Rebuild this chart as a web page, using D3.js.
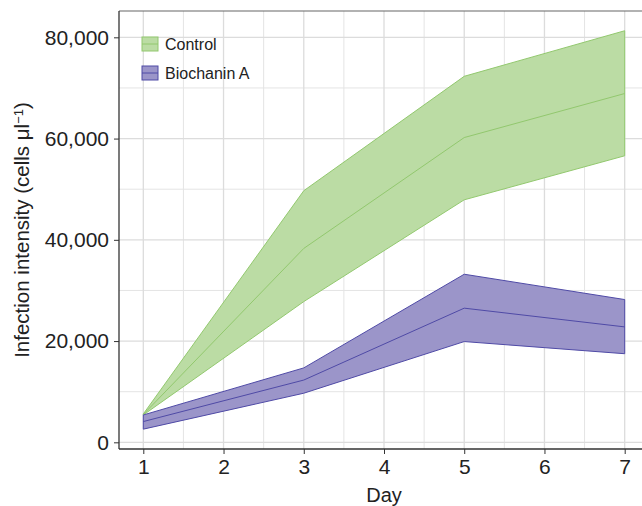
<!DOCTYPE html>
<html>
<head>
<meta charset="utf-8">
<script src="https://cdn.jsdelivr.net/npm/d3@7"></script>
<style>
  body { margin: 0; background: #fff; }
  svg { font-family: "Liberation Sans", Arial, sans-serif; }
</style>
</head>
<body>
<div id="chart"></div>
<script>
// values
const days = [1, 3, 5, 7];
const controlMean  = [5500, 38300, 60200, 68900];
const controlLower = [5400, 27800, 47900, 56600];
const controlUpper = [5600, 49700, 72300, 81300];
const bioMean  = [4100, 12300, 26500, 22800];
const bioLower = [2600, 9700, 19900, 17500];
const bioUpper = [5400, 14700, 33200, 28200];
const xTicks = [1, 2, 3, 4, 5, 6, 7];
const yTicks = [0, 20000, 40000, 60000, 80000];
const seriesNames = ["Control", "Biochanin A"];

const W = 642, H = 506;
const margin = { top: 11, right: -7, bottom: 57, left: 119 };
const iw = W - margin.left - margin.right;
const ih = H - margin.top - margin.bottom;

const svg = d3.select("#chart").append("svg")
  .attr("width", W).attr("height", H);

const g = svg.append("g")
  .attr("transform", `translate(${margin.left},${margin.top})`);

const x = d3.scaleLinear().domain([0.697, 7.303]).range([0, iw]);
const y = d3.scaleLinear().domain([-1320, 85200]).range([ih, 0]);

// grid (minor then major)
const minorX = d3.range(1.5, 7.5, 1);
const minorY = [10000, 30000, 50000, 70000];
g.append("g").selectAll("line").data(minorX).join("line")
  .attr("x1", d => x(d)).attr("x2", d => x(d)).attr("y1", 0).attr("y2", ih)
  .attr("stroke", "#e4e4e4").attr("stroke-width", 1);
g.append("g").selectAll("line").data(minorY).join("line")
  .attr("y1", d => y(d)).attr("y2", d => y(d)).attr("x1", 0).attr("x2", iw)
  .attr("stroke", "#e4e4e4").attr("stroke-width", 1);
g.append("g").selectAll("line").data(xTicks).join("line")
  .attr("x1", d => x(d)).attr("x2", d => x(d)).attr("y1", 0).attr("y2", ih)
  .attr("stroke", "#dcdcdc").attr("stroke-width", 1.3);
g.append("g").selectAll("line").data(yTicks).join("line")
  .attr("y1", d => y(d)).attr("y2", d => y(d)).attr("x1", 0).attr("x2", iw)
  .attr("stroke", "#dcdcdc").attr("stroke-width", 1.3);

// bands + mean lines
const groups = [
  { name: seriesNames[0], mean: controlMean, lo: controlLower, hi: controlUpper, fill: "#bbdca4", stroke: "#92c86e" },
  { name: seriesNames[1], mean: bioMean, lo: bioLower, hi: bioUpper, fill: "#9b95c9", stroke: "#4f4aa6" }
];

const area = d3.area()
  .x((d, i) => x(days[i]))
  .y0(d => y(d[0]))
  .y1(d => y(d[1]));
const line = d3.line().x((d, i) => x(days[i])).y(d => y(d));

groups.forEach(s => {
  const pts = days.map((_, i) => [s.lo[i], s.hi[i]]);
  g.append("path").datum(pts)
    .attr("d", d => area(d) + "Z")
    .attr("fill", s.fill)
    .attr("stroke", s.stroke).attr("stroke-width", 1);
  g.append("path").datum(s.mean)
    .attr("d", line)
    .attr("fill", "none")
    .attr("stroke", s.stroke).attr("stroke-width", 1);
});

// panel border: grey top, darker left/bottom
g.append("line").attr("x1", 0).attr("x2", iw).attr("y1", 0).attr("y2", 0)
  .attr("stroke", "#666").attr("stroke-width", 1.2);
g.append("line").attr("x1", 0).attr("x2", 0).attr("y1", 0).attr("y2", ih)
  .attr("stroke", "#333").attr("stroke-width", 1.3);
g.append("line").attr("x1", 0).attr("x2", iw).attr("y1", ih).attr("y2", ih)
  .attr("stroke", "#333").attr("stroke-width", 1.3);

// axes
const xAxis = g.append("g").attr("transform", `translate(0,${ih})`)
  .call(d3.axisBottom(x).tickValues(xTicks).tickFormat(d3.format("d")).tickSize(5).tickPadding(5));
const yAxis = g.append("g")
  .call(d3.axisLeft(y).tickValues(yTicks).tickFormat(d3.format(",")).tickSize(5).tickPadding(5));
[xAxis, yAxis].forEach(a => {
  a.select(".domain").remove();
  a.selectAll(".tick line").attr("stroke", "#333");
  a.selectAll("text").attr("fill", "#222").style("font-size", "21px");
});

// axis titles
g.append("text")
  .attr("x", x(4)).attr("y", ih + 53)
  .attr("text-anchor", "middle")
  .attr("fill", "#222").style("font-size", "20px")
  .text("Day");

const yl = svg.append("text")
  .attr("transform", `translate(29,${margin.top + ih / 2}) rotate(-90)`)
  .attr("text-anchor", "middle")
  .attr("fill", "#222").style("font-size", "20.5px");
yl.append("tspan").text("Infection intensity (cells μl");
yl.append("tspan").attr("dy", -6).style("font-size", "13px").text("−1");
yl.append("tspan").attr("dy", 6).text(")");

// legend
const legend = g.append("g").attr("transform", "translate(23,26)");
groups.forEach((s, i) => {
  const row = legend.append("g").attr("transform", `translate(0,${i * 29})`);
  row.append("rect").attr("x", 0).attr("y", 0).attr("width", 16).attr("height", 14)
    .attr("fill", s.fill).attr("stroke", s.stroke).attr("stroke-width", 1);
  row.append("line").attr("x1", 0).attr("x2", 16).attr("y1", 7).attr("y2", 7)
    .attr("stroke", s.stroke).attr("stroke-width", 1);
  row.append("text").attr("x", 23).attr("y", 7).attr("dy", "0.35em")
    .attr("fill", "#222").style("font-size", "16px").text(s.name);
});
</script>
</body>
</html>
